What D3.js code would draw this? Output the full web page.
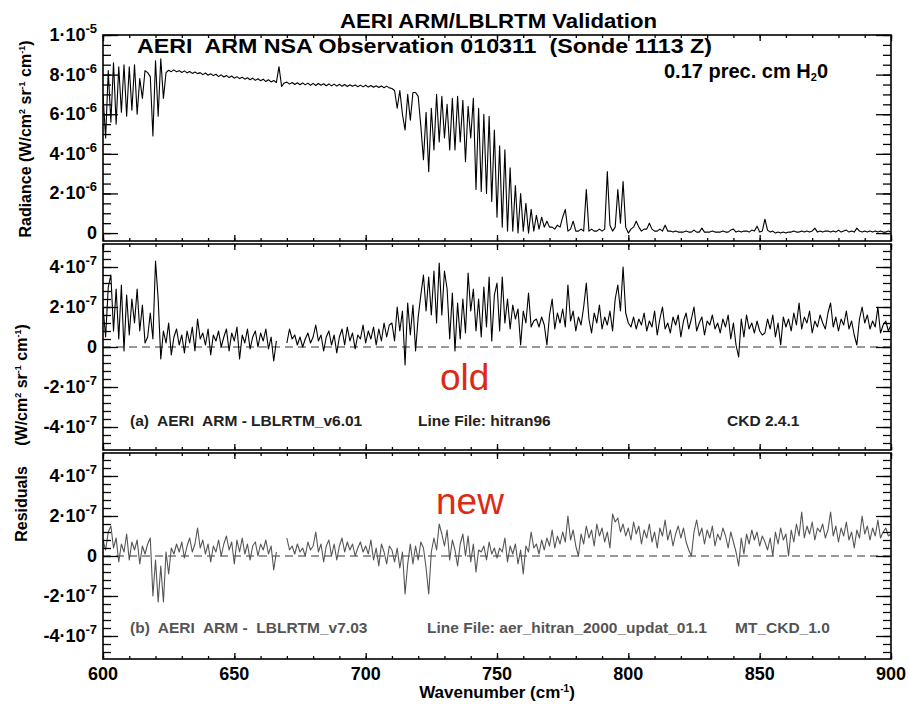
<!DOCTYPE html>
<html><head><meta charset="utf-8">
<script src="https://cdn.jsdelivr.net/npm/d3@7/dist/d3.min.js"></script>
<style>body{margin:0;background:#fff}svg{display:block}text{white-space:pre;font-family:"Liberation Sans",Arial,Helvetica,sans-serif}</style>
</head><body><svg id="c" width="909" height="704"></svg>
<script>
// ---------- DATA ----------
const wavenumbers = d3.range(600, 901, 1); // cm-1
// Radiance, units of 1e-6 W/(cm2 sr cm-1)
const radianceE6 = [
 7.0,4.8,8.2,5.6,8.6,5.5,8.4,6.1,8.5,5.9,
 8.4,6.2,8.5,6.0,7.8,6.8,8.2,8.1,7.9,4.9,
 8.7,5.9,8.8,6.8,8.1,8.22,8.15,8.24,8.14,8.20,
 8.11,8.19,8.09,8.16,8.06,8.13,8.05,8.10,8.00,8.08,
 7.97,8.04,7.95,8.02,7.90,7.99,7.88,7.96,7.85,7.93,
 7.82,7.90,7.80,7.87,7.77,7.84,7.74,7.82,7.71,7.79,
 7.69,7.77,7.65,7.74,7.63,7.70,7.60,8.40,7.40,7.58,
 7.62,7.52,7.60,7.50,7.59,7.49,7.58,7.48,7.57,7.46,
 7.56,7.45,7.55,7.46,7.54,7.44,7.53,7.43,7.52,7.42,
 7.51,7.41,7.50,7.40,7.49,7.41,7.48,7.39,7.47,7.38,
 7.46,7.37,7.45,7.36,7.44,7.35,7.43,7.34,7.42,7.33,
 7.3,7.2,6.3,7.2,6.0,5.2,7.0,5.7,7.1,7.1,
 6.9,5.4,3.7,6.1,3.1,6.3,4.2,7.0,4.6,6.9,
 4.8,6.5,4.2,6.8,4.2,6.9,4.6,6.7,3.6,6.4,
 4.8,6.8,2.2,6.3,2.1,6.0,2.0,5.9,1.6,5.2,
 0.8,4.4,0.3,4.2,0.1,3.3,0.1,2.4,0.0,2.0,
 0.1,1.5,0.0,1.2,0.1,0.9,0.2,0.8,0.3,0.6,
 0.3,0.3,0.2,0.4,0.3,0.8,1.2,0.1,0.2,0.6,
 0.1,0.1,0.2,0.1,2.2,0.1,0.2,0.1,0.1,0.2,
 0.1,0.2,3.1,0.4,0.1,0.3,2.2,0.5,2.6,0.3,
 0.0,0.2,0.3,0.6,0.3,0.1,0.2,0.2,0.5,0.2,
 0.1,0.1,0.2,0.1,0.4,0.1,0.1,0.05,0.1,0.05,
 0.05,0.05,0.1,0.05,0.05,0.15,0.05,0.05,0.25,0.05,
 0.05,0.05,0.1,0.05,0.05,0.05,0.1,0.05,0.05,0.15,
 0.2,0.05,0.1,0.05,0.1,0.1,0.05,0.15,0.1,0.35,
 0.05,0.1,0.7,0.15,0.05,0.1,0.0,0.05,0.0,0.05,
 0.0,0.05,0.05,0.1,0.05,0.05,0.1,0.05,0.1,0.05,
 0.1,0.25,0.05,0.1,0.05,0.1,0.1,0.05,0.1,0.05,
 0.15,0.05,0.1,0.15,0.05,0.1,0.05,0.25,0.1,0.05,
 0.1,0.05,0.1,0.05,0.1,0.05,0.1,0.05,0.05,0.1,
 0.05
];
// Residuals (a) old, units of 1e-8
const oldResidE8 = [
 20,5,30,36,8,29,4,31,-2,26,
 6,24,12,29,8,21,2,5,17,4,
 43,24,-6,8,2,12,-4,5,9,1,
 6,-3,8,2,10,-2,14,4,7,1,
 9,-4,6,3,8,0,5,9,-2,7,
 3,10,-6,6,2,9,-1,5,8,0,
 7,3,9,-1,5,-7,3,null,null,null,
 2,9,4,6,1,5,0,4,7,2,
 5,11,3,6,-2,5,8,1,6,-3,
 5,9,1,10,3,7,-1,6,4,11,
 2,8,4,10,1,9,3,12,5,11,
 12,3,20,8,18,-9,22,6,21,-2,
 15,26,36,18,35,16,38,12,42,16,
 38,29,4,27,-2,22,4,24,7,37,
 18,29,8,24,5,30,10,35,3,26,
 32,8,35,12,24,9,21,14,19,1,
 18,12,27,10,13,14,10,15,11,1,
 16,24,9,17,12,19,10,31,13,18,
 8,15,11,20,32,14,7,17,12,21,
 9,15,11,18,8,24,31,18,40,17,
 12,10,15,9,14,11,17,8,13,10,
 18,6,14,20,9,12,7,15,11,16,
 5,13,17,9,14,20,8,12,15,6,
 13,11,16,9,12,7,14,10,16,4,
 12,1,-5,14,5,16,9,12,7,13,
 8,6,7,14,9,16,5,12,1,15,
 10,14,8,17,11,22,9,15,12,18,
 7,13,10,16,12,9,17,22,10,15,
 8,14,11,18,9,13,6,1,14,20,
 12,16,9,13,10,20,7,11,13,8,
 11
];
// Residuals (b) new, units of 1e-8
const newResidE8 = [
 8,3,12,15,4,9,-3,6,2,11,
 -2,7,3,8,-4,5,1,6,9,-20,
 -2,-23,-5,-23,2,-9,4,1,6,2,
 7,-1,5,9,2,6,14,4,8,1,
 6,-3,5,2,8,0,6,10,3,7,
 -4,8,2,9,1,6,-2,5,7,0,
 6,3,8,1,5,-7,2,null,null,null,
 9,3,5,1,6,2,4,0,7,3,
 5,12,2,6,-3,5,8,0,6,-2,
 5,9,2,7,3,6,0,4,7,2,
 5,1,8,-2,4,-5,6,2,-4,5,
 3,-3,4,-6,2,-19,-4,6,-4,5,
 -2,7,4,-6,-19,2,9,3,16,11,
 5,13,-2,8,3,-5,6,11,0,10,
 -3,6,-8,3,2,5,-2,7,1,4,
 -1,4,2,9,-3,5,1,6,-4,3,
 -9,5,2,12,4,6,1,8,3,9,
 5,13,4,10,6,12,7,20,8,13,
 5,0,11,6,15,9,13,5,16,10,
 14,7,12,4,21,17,19,12,16,10,
 14,8,17,11,15,6,13,9,16,7,
 12,4,14,10,18,8,13,5,11,15,
 9,14,7,3,0,12,18,10,14,6,
 13,9,15,5,11,8,14,10,4,12,
 7,2,-5,9,1,11,6,13,8,12,
 5,10,7,3,9,0,12,6,14,8,
 11,0,13,7,16,10,22,9,15,11,
 17,8,14,12,16,9,13,22,10,15,
 7,14,10,17,8,12,4,13,9,20,
 11,15,8,14,10,18,9,12,14,10,
 11
];
const xTickValues = [600, 650, 700, 750, 800, 850, 900];
const radianceTicks = [0, 2e-6, 4e-6, 6e-6, 8e-6, 1e-5];
const residualTicks = [-4e-7, -2e-7, 0, 2e-7, 4e-7];

// ---------- DRAW ----------
const svg = d3.select("#c");
const L = 103, R = 891;
const x = d3.scaleLinear().domain([600, 900]).range([L, R]);

const panels = [
  {top: 35, bottom: 241, domain: [-0.4e-6, 1.0e-5], values: radianceE6, unit: 1e-6, color: "#000", ticks: radianceTicks, minorStep: 0.5e-6, zero: false},
  {top: 244, bottom: 450, domain: [-5.15e-7, 5.15e-7], values: oldResidE8, unit: 1e-8, color: "#000", ticks: residualTicks, minorStep: 4e-8, zero: true},
  {top: 453, bottom: 659, domain: [-5.15e-7, 5.15e-7], values: newResidE8, unit: 1e-8, color: "#555", ticks: residualTicks, minorStep: 4e-8, zero: true}
];

function sci(v) {
  if (v === 0) return null;
  const e = Math.floor(Math.log10(Math.abs(v)) + 1e-9);
  const m = Math.round(v / Math.pow(10, e));
  return {m: m + "\u00b710", e: String(e)};
}

const xMinor = d3.range(600, 901, 10);

panels.forEach((p, i) => {
  const y = d3.scaleLinear().domain(p.domain).range([p.bottom, p.top]);
  const g = svg.append("g");
  const clipId = "clip" + i;
  svg.append("clipPath").attr("id", clipId).append("rect")
    .attr("x", L).attr("y", p.top).attr("width", R - L).attr("height", p.bottom - p.top);

  const minors = d3.range(Math.ceil(p.domain[0] / p.minorStep - 1e-6), Math.floor(p.domain[1] / p.minorStep + 1e-6) + 1)
    .map(k => k * p.minorStep);

  if (p.zero) {
    g.append("line").attr("x1", L).attr("x2", R).attr("y1", y(0)).attr("y2", y(0))
      .attr("stroke", "#333").attr("stroke-width", 1).attr("stroke-dasharray", "8,5");
  }

  const pts = wavenumbers.map((wn, k) => ({wn, v: p.values[k]}));
  const line = d3.line().defined(d => d.v !== null && d.v !== undefined)
    .x(d => x(d.wn)).y(d => y(d.v * p.unit));
  g.append("path").datum(pts).attr("d", line).attr("fill", "none")
    .attr("stroke", p.color).attr("stroke-width", 1.1).attr("stroke-linejoin", "round")
    .attr("clip-path", `url(#${clipId})`);

  const mk = (axis, tx, ty) => {
    const a = g.append("g").attr("transform", `translate(${tx},${ty})`).call(axis);
    a.select(".domain").remove();
    a.selectAll("text").remove();
    a.selectAll("line").attr("stroke", "#000").attr("stroke-width", 1.3);
  };
  mk(d3.axisRight(y).tickValues(minors).tickSize(8).tickFormat(""), L, 0);
  mk(d3.axisRight(y).tickValues(p.ticks).tickSize(15).tickFormat(""), L, 0);
  mk(d3.axisLeft(y).tickValues(minors).tickSize(8).tickFormat(""), R, 0);
  mk(d3.axisLeft(y).tickValues(p.ticks).tickSize(15).tickFormat(""), R, 0);
  mk(d3.axisBottom(x).tickValues(xMinor).tickSize(3).tickFormat(""), 0, p.top);
  mk(d3.axisBottom(x).tickValues(xTickValues).tickSize(6).tickFormat(""), 0, p.top);
  mk(d3.axisTop(x).tickValues(xMinor).tickSize(3).tickFormat(""), 0, p.bottom);
  mk(d3.axisTop(x).tickValues(xTickValues).tickSize(6).tickFormat(""), 0, p.bottom);

  g.append("rect").attr("x", L).attr("y", p.top).attr("width", R - L).attr("height", p.bottom - p.top)
    .attr("fill", "none").attr("stroke", "#000").attr("stroke-width", 1.6);

  p.ticks.forEach(v => {
    const t = g.append("text").attr("x", 97).attr("y", y(v) + 6).attr("text-anchor", "end")
      .attr("font-size", 18).attr("font-weight", "bold").attr("fill", "#000");
    const s = sci(v);
    if (!s) { t.text("0"); }
    else {
      t.append("tspan").text(s.m);
      t.append("tspan").attr("dy", -8).attr("font-size", 13).text(s.e);
    }
  });
});

// x tick labels
svg.append("g").selectAll("text").data(xTickValues).join("text")
  .attr("x", d => x(d)).attr("y", 680).attr("text-anchor", "middle")
  .attr("font-size", 18).attr("font-weight", "bold").text(d => d);

// x axis title
const xt = svg.append("text").attr("x", 497).attr("y", 698).attr("text-anchor", "middle")
  .attr("font-size", 17).attr("font-weight", "bold");
xt.append("tspan").text("Wavenumber (cm");
xt.append("tspan").attr("dy", -6).attr("font-size", 10).text("-1");
xt.append("tspan").attr("dy", 6).text(")");

// y axis titles
function unitLabel(sel, prefix) {
  sel.append("tspan").text(prefix + "(W/cm");
  sel.append("tspan").attr("dy", -6).attr("font-size", 9).text("2");
  sel.append("tspan").attr("dy", 6).text(" sr");
  sel.append("tspan").attr("dy", -6).attr("font-size", 9).text("-1");
  sel.append("tspan").attr("dy", 6).text(" cm");
  sel.append("tspan").attr("dy", -6).attr("font-size", 9).text("-1");
  sel.append("tspan").attr("dy", 6).text(")");
}
const yl1 = svg.append("text").attr("transform", "translate(31,139) rotate(-90)")
  .attr("text-anchor", "middle").attr("font-size", 16).attr("font-weight", "bold");
unitLabel(yl1, "Radiance ");
const yl2 = svg.append("text").attr("transform", "translate(27,385) rotate(-90)")
  .attr("text-anchor", "middle").attr("font-size", 16).attr("font-weight", "bold");
unitLabel(yl2, "");
svg.append("text").attr("transform", "translate(27,504) rotate(-90)")
  .attr("text-anchor", "middle").attr("font-size", 16).attr("font-weight", "bold").text("Residuals");

// titles
svg.append("text").attr("x", 340).attr("y", 28).attr("font-size", 21).attr("font-weight", "bold")
  .attr("textLength", 317).attr("lengthAdjust", "spacingAndGlyphs").text("AERI ARM/LBLRTM Validation");
svg.append("text").attr("x", 137).attr("y", 53).attr("font-size", 20).attr("font-weight", "bold")
  .attr("textLength", 575).attr("lengthAdjust", "spacingAndGlyphs").text("AERI  ARM NSA Observation 010311  (Sonde 1113 Z)");
const pw = svg.append("text").attr("x", 664).attr("y", 78).attr("font-size", 20).attr("font-weight", "bold");
pw.append("tspan").text("0.17 prec. cm H");
pw.append("tspan").attr("dy", 3).attr("font-size", 11).text("2");
pw.append("tspan").attr("dy", -3).text("0");

// annotations
svg.append("text").attr("x", 440).attr("y", 390).attr("font-size", 37).attr("fill", "#dc2a14").text("old");
svg.append("text").attr("x", 436).attr("y", 514).attr("font-size", 37).attr("fill", "#dc2a14").text("new");

const ann = (t, xx, yy, col) => svg.append("text").attr("x", xx).attr("y", yy)
  .attr("font-size", 15.5).attr("font-weight", "bold").attr("fill", col).text(t);
ann("(a)  AERI  ARM - LBLRTM_v6.01", 130, 426, "#222");
ann("Line File: hitran96", 418, 426, "#222");
ann("CKD 2.4.1", 727, 426, "#222");
ann("(b)  AERI  ARM -  LBLRTM_v7.03", 130, 633, "#555");
ann("Line File: aer_hitran_2000_updat_01.1", 427, 633, "#555");
ann("MT_CKD_1.0", 735, 633, "#555");
</script></body></html>
